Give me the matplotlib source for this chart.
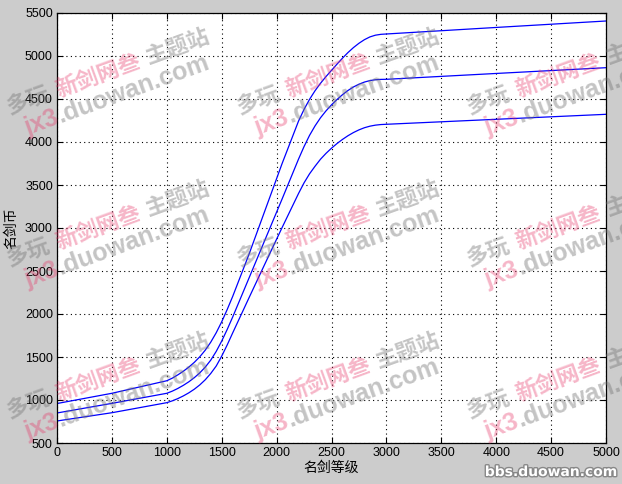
import math
import matplotlib
matplotlib.use("Agg")
import matplotlib.pyplot as plt
import matplotlib.patheffects as pe
from matplotlib.transforms import IdentityTransform

# ---- data ----
level = [0, 500, 1000, 1050, 1100, 1150, 1200, 1250, 1300, 1350, 1400, 1450, 1500, 1550,
         1600, 1750, 1900, 2050, 2200, 2250, 2300, 2350, 2400, 2450, 2500, 2550, 2600,
         2650, 2700, 2750, 2800, 2850, 2900, 2950, 3000, 4000, 5000]
coins_high = [959, 1078, 1224, 1254, 1292, 1334, 1382, 1437, 1502, 1579, 1672, 1782, 1909, 2052,
              2204, 2699, 3224, 3749, 4244, 4379, 4496, 4596, 4683, 4761, 4833, 4905, 4975,
              5040, 5098, 5148, 5190, 5222, 5242, 5252, 5256, 5332, 5407]
coins_mid = [849, 961, 1078, 1103, 1134, 1170, 1211, 1259, 1315, 1382, 1463, 1565, 1685, 1820,
             1965, 2422, 2880, 3337, 3802, 3947, 4077, 4187, 4282, 4362, 4432, 4494, 4550,
             4599, 4640, 4672, 4697, 4714, 4724, 4728, 4729, 4797, 4864]
coins_low = [756, 852, 969, 990, 1016, 1047, 1083, 1125, 1175, 1235, 1308, 1395, 1510, 1640,
             1780, 2192, 2600, 3005, 3402, 3525, 3630, 3718, 3800, 3868, 3928, 3982, 4030,
             4073, 4110, 4141, 4166, 4184, 4196, 4203, 4206, 4264, 4322]

xticks = [0, 500, 1000, 1500, 2000, 2500, 3000, 3500, 4000, 4500, 5000]
yticks = [500, 1000, 1500, 2000, 2500, 3000, 3500, 4000, 4500, 5000, 5500]
xlabel = "名剑等级"
ylabel = "名剑币"

W, H = 622, 484
fig = plt.figure(figsize=(W / 100, H / 100), dpi=100, facecolor="#cccccc")
ax = fig.add_axes([57 / W, 1 - 443 / H, (606 - 57) / W, (443 - 13) / H])
ax.set_facecolor("white")

for ys in (coins_high, coins_mid, coins_low):
    ax.plot(level, ys, color="#0000ff", linewidth=0.9)

ax.set_xlim(0, 5000)
ax.set_ylim(500, 5500)
ax.set_xticks(xticks)
ax.set_yticks(yticks)
ax.grid(True, color="black", linestyle=(0, (1, 3)), linewidth=0.8)
ax.tick_params(direction="in", length=4, width=0.8, top=True, right=True,
               labelsize=9, colors="black", pad=3)
for lab in ax.get_xticklabels() + ax.get_yticklabels():
    lab.set_family("Liberation Sans")
for s in ax.spines.values():
    s.set_linewidth(0.9)
cjk = ["Noto Sans CJK SC", "DejaVu Sans"]
ax.set_xlabel(xlabel, family=cjk, fontsize=10, labelpad=1)
ax.set_ylabel(ylabel, family=cjk, fontsize=10, labelpad=5)

# ---- watermarks (semi-transparent text) ----
gray = (0.45, 0.45, 0.45, 0.42)
pink = (0.9, 0.2, 0.4, 0.36)
rot = 20
d = (math.cos(math.radians(rot)), math.sin(math.radians(rot)))
renderer = fig.canvas.get_renderer()

line1 = [("多玩", gray), ("新剑网叁", pink), ("主题站", gray)]
line2 = [("jx3", pink), (".duowan.com", gray)]
lines = [
    (line1, (10, 115), cjk, 16, 7),
    (line2, (28, 135), ["Liberation Sans"], 18, 0),
]


def width_of(txt, fam, fs):
    t = fig.text(0, 0, txt, family=fam, fontsize=fs, fontweight="bold")
    w = t.get_window_extent(renderer).width
    t.remove()
    return w


for i in range(3):
    for j in range(3):
        ox, oy = 230 * i, 152 * j
        for parts, (sx, sy), fam, fs, gap in lines:
            x, y = sx + ox, H - (sy + oy)
            for txt, c in parts:
                w = width_of(txt, fam, fs) + gap
                if x < W:
                    fig.text(x, y, txt, color=c, family=fam, fontsize=fs, fontweight="bold",
                             rotation=rot, ha="left", va="baseline", rotation_mode="anchor",
                             transform=IdentityTransform(), zorder=5)
                x += w * d[0]
                y += w * d[1]

t = fig.text(551 / W, 1 - 472 / H, "bbs.duowan.com", color="white", family="DejaVu Sans",
             fontsize=10, fontweight="bold", ha="center", va="center", zorder=6)
t.set_path_effects([pe.withStroke(linewidth=2, foreground="#888888")])

fig.savefig("out.png", dpi=100, facecolor=fig.get_facecolor())
